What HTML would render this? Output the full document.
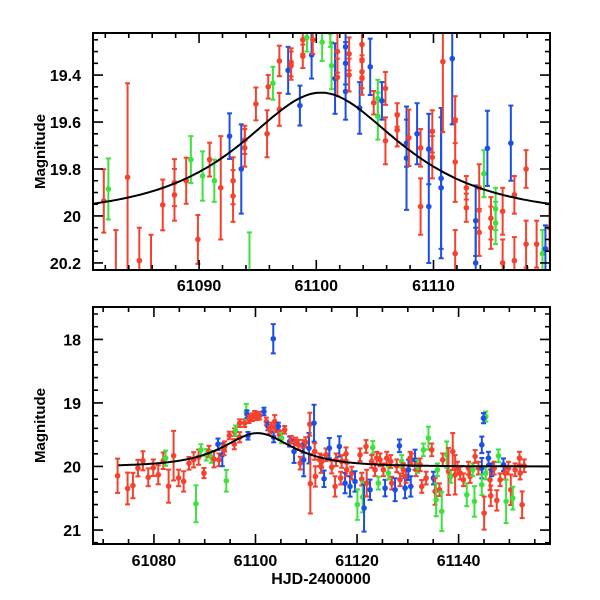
<!DOCTYPE html>
<html><head><meta charset="utf-8"><style>
html,body{margin:0;padding:0;background:#fff;}
svg{display:block;font-family:"Liberation Sans",sans-serif;}
</style></head><body>
<svg id="chart" width="600" height="600" viewBox="0 0 600 600" xmlns="http://www.w3.org/2000/svg"></svg>
<script>
const topT=[61081.87,61082.26,61083.9,61082.9,61084.9,61085.9,61086.9,61087.9,61087.9,61088.9,61089.3,61089.9,61090.3,61090.9,61091.3,61091.85,61092.6,61092.9,61092.9,61094.3,61093.6,61093.9,61093.9,61094.85,61095.8,61095.9,61096.3,61096.85,61096.85,61097.6,61097.85,61097.85,61098.6,61098.85,61098.85,61099.2,61099.6,61099.7,61100.5,61101.3,61101.2,61101.6,61101.8,61101.8,61102.5,61102.5,61102.5,61102.8,61102.8,61103.7,61103.9,61103.9,61103.9,61103.9,61104.6,61104.9,61105.25,61105.25,61105.6,61105.9,61105.9,61106.9,61106.9,61107.7,61107.7,61107.9,61108.6,61108.9,61108.9,61109.6,61109.6,61109.9,61109.9,61110.65,61110.65,61110.8,61111.6,61111.85,61111.85,61111.85,61112.8,61112.8,61113.6,61113.6,61113.9,61113.9,61114.3,61114.6,61114.9,61114.9,61115.3,61115.3,61115.9,61115.9,61116.6,61116.9,61116.9,61117.9,61117.9,61118.8,61119.3,61119.55,61119.9];
const topM=[19.936,19.885,19.835,20.3,20.19,20.3,19.953,19.858,19.91,19.85,19.76,20.1,19.83,19.76,19.85,19.88,19.66,19.85,19.915,20.3,19.8,19.676,19.71,19.523,19.65,19.45,19.435,19.546,19.34,19.38,19.346,19.36,19.53,19.32,19.25,19.24,19.315,19.25,19.26,19.36,19.22,19.415,19.3,19.41,19.28,19.35,19.47,19.31,19.4,19.54,19.27,19.336,19.386,19.414,19.365,19.518,19.575,19.5,19.51,19.457,19.68,19.57,19.634,19.69,19.754,19.667,19.65,19.96,19.71,19.715,19.96,19.64,19.75,19.84,19.88,19.343,19.33,19.59,19.77,20.16,19.965,19.88,20.02,20.2,19.88,20.07,19.82,19.712,20.01,20.05,19.97,20.03,19.98,20.2,19.69,19.91,20.19,19.8,20.12,20.12,20.16,20.14,20.05];
const topE=[0.135,0.13,0.4,0.24,0.14,0.22,0.108,0.1,0.11,0.098,0.1,0.104,0.105,0.072,0.09,0.22,0.097,0.1,0.11,0.23,0.19,0.06,0.08,0.07,0.1,0.05,0.07,0.07,0.065,0.1,0.06,0.06,0.085,0.05,0.06,0.06,0.1,0.06,0.08,0.1,0.06,0.15,0.09,0.08,0.07,0.09,0.12,0.07,0.07,0.11,0.06,0.07,0.07,0.07,0.12,0.05,0.1,0.08,0.08,0.07,0.1,0.05,0.07,0.1,0.22,0.12,0.13,0.12,0.08,0.15,0.24,0.09,0.09,0.3,0.3,0.3,0.28,0.1,0.17,0.1,0.06,0.05,0.15,0.15,0.1,0.1,0.1,0.16,0.09,0.09,0.09,0.09,0.1,0.1,0.16,0.08,0.1,0.08,0.1,0.1,0.1,0.1,0.1];
const topC="RGRRRRRRRRGRGRGRBRRGBRRRRRGRRBRRBRRGBRGGGBRRBBBRRBRRRRBRGGBRRRRBBRBRRBBRRBBRBRRRRRBBRRGBRRGGRRBRRRRRGBR";

const botT=[61072.84,61074.81,61075.86,61076.85,61077.83,61078.88,61079.87,61080.85,61081.84,61082.3,61082.89,61083.87,61084.86,61085.85,61086.9,61087.82,61088.28,61088.8,61089.26,61089.85,61090.31,61090.84,61091.3,61091.82,61092.81,61092.61,61093.47,61093.92,61093.8,61094.25,61094.84,61095.83,61095.9,61096.09,61096.88,61096.88,61098.52,61097.87,61098.2,61098.33,61098.72,61099.38,61099.84,61100.3,61100.82,61101.67,61102.14,61102.46,61102.8,61103.78,61103.58,61103.12,61103.97,61104.5,61104.76,61105.16,61105.75,61106.73,61107.06,61107.59,61107.9,61108.5,61108.8,61109.36,61109.5,61109.9,61110.54,61110.8,61110.7,61111.53,61111.66,61111.79,61112.65,61112.9,61103.5,61113.04,61113.5,61113.9,61114.55,61115.01,61115.67,61115.86,61116.52,61116.78,61116.98,61117.64,61117.83,61117.96,61118.62,61118.95,61119.6,61120.07,61120.59,61120.92,61121.12,61121.38,61121.77,61121.9,61122.56,61123.09,61122.89,61123.55,61123.88,61124.2,61124.53,61125.19,61125.52,61125.85,61126.17,61126.63,61126.83,61127.49,61127.82,61128.34,61128.47,61128.8,61129.13,61129.46,61129.66,61130.12,61130.45,61130.58,61130.77,61131.43,61131.63,61131.95,61132.41,61132.74,61133.07,61133.6,61134.06,61134.71,61135.04,61135.37,61135.57,61135.83,61136.23,61136.68,61136.88,61137.67,61138.0,61138.46,61138.85,61139.31,61139.77,61140.3,61140.95,61141.61,61141.94,61142.27,61142.79,61143.12,61143.25,61143.91,61144.57,61145.35,61144.9,61144.57,61144.57,61145.03,61145.35,61145.88,61146.2,61146.53,61146.34,61147.0,61147.52,61147.85,61148.18,61148.84,61149.17,61149.36,61149.82,61150.28,61150.68,61151.13,61151.99,61152.12,61152.51,61152.91];
const botM=[20.146,20.346,20.30,20.026,19.91,20.17,20.02,20.13,19.91,19.87,20.31,19.83,20.18,20.235,19.95,19.895,20.587,19.853,19.74,20.104,19.816,19.764,19.853,19.884,19.895,19.65,19.816,19.685,19.74,20.225,19.512,19.649,19.46,19.434,19.54,19.318,19.517,19.318,19.135,19.177,19.256,19.224,19.187,19.21,19.2,19.135,19.292,19.37,19.423,19.292,19.54,19.37,19.397,19.37,19.5,19.554,19.423,19.607,19.58,19.764,19.607,19.66,19.947,19.685,19.895,19.62,19.712,20.27,19.334,19.318,19.764,20.157,19.895,20.0,17.99,19.921,20.194,19.816,19.711,20.01,20.314,19.895,19.685,20.183,19.921,20.262,19.8,20.052,20.314,20.104,20.236,20.6,19.816,20.199,20.482,20.655,19.685,20.262,20.366,19.7,19.921,20.052,19.869,20.262,19.895,20.052,20.34,19.869,20.104,19.921,20.262,20.366,19.989,19.675,20.209,19.921,20.052,20.34,20.157,20.052,19.869,20.314,19.895,19.895,20.052,20.0,19.973,20.314,19.738,20.183,19.554,19.738,20.183,20.393,20.524,20.052,20.366,20.707,19.895,19.816,20.078,20.157,19.764,20.131,20.026,20.104,20.209,20.445,20.026,20.157,20.052,20.55,19.842,20.026,19.659,19.214,19.24,20.026,20.288,20.734,20.104,19.869,20.209,20.052,20.461,20.026,20.534,19.832,20.209,19.973,20.104,20.55,20.026,20.366,20.498,20.052,19.869,20.104,20.602,19.989];
const botE=[0.27,0.25,0.2,0.13,0.15,0.14,0.13,0.15,0.13,0.12,0.26,0.39,0.13,0.16,0.1,0.12,0.29,0.12,0.09,0.08,0.09,0.09,0.09,0.13,0.1,0.09,0.18,0.08,0.08,0.17,0.06,0.08,0.06,0.08,0.08,0.06,0.06,0.06,0.12,0.06,0.06,0.06,0.06,0.06,0.06,0.06,0.06,0.06,0.06,0.1,0.08,0.06,0.06,0.06,0.06,0.08,0.06,0.08,0.06,0.18,0.06,0.08,0.1,0.1,0.26,0.08,0.24,0.47,0.18,0.29,0.13,0.16,0.1,0.1,0.23,0.1,0.13,0.1,0.16,0.1,0.16,0.1,0.16,0.1,0.1,0.16,0.1,0.1,0.16,0.1,0.16,0.24,0.1,0.1,0.24,0.37,0.1,0.21,0.16,0.1,0.1,0.1,0.1,0.1,0.1,0.1,0.13,0.1,0.1,0.1,0.1,0.18,0.1,0.1,0.1,0.1,0.1,0.16,0.1,0.16,0.1,0.16,0.1,0.16,0.1,0.1,0.1,0.1,0.1,0.1,0.18,0.1,0.1,0.21,0.26,0.1,0.1,0.31,0.1,0.21,0.37,0.1,0.29,0.31,0.1,0.1,0.1,0.18,0.1,0.1,0.1,0.24,0.1,0.1,0.13,0.08,0.08,0.16,0.16,0.26,0.1,0.1,0.16,0.1,0.16,0.1,0.16,0.1,0.1,0.1,0.1,0.34,0.1,0.24,0.18,0.1,0.1,0.1,0.21,0.1];
const botC="RRRRRRRRRGRRRRRRGRGRGRGRRBBRRGRRRGRRBRGBRRRRRBRBRRBRRBRGRBRBRRRRBRBRRBRRRRBRBRBRRRBRRBRRBRBGRRGBRRBGRRRGRRBRGRRBRBRGRBRBRBRBRGRRGRGRBRGGRGRGRGRRRRRGRRGGRRBGBBGRGBRBRRRGRBRGRRGRRR";

const topXTicks=[61090,61100,61110];
const topYTicks=[19.4,19.6,19.8,20,20.2];
const botXTicks=[61080,61100,61120,61140];
const botYTicks=[18,19,20,21];

const NS="http://www.w3.org/2000/svg";
const svg=document.getElementById('chart');
const COL={R:"#f5412d",G:"#3ee23e",B:"#1c4fe8"};
function el(tag,attrs,parent){const e=document.createElementNS(NS,tag);for(const k in attrs)e.setAttribute(k,attrs[k]);(parent||svg).appendChild(e);return e;}
function model(t){const u0=0.735,tE=9.65,t0=61100.4;const u=Math.sqrt(u0*u0+((t-t0)/tE)**2);const A=(u*u+2)/(u*Math.sqrt(u*u+4));return 20.0-2.5*Math.log10(A);}

function panel(cfg){
  const g=el('g',{});
  
  
  const L=cfg.L,R=cfg.R,Tp=cfg.Tp,B=cfg.B,x0=cfg.x0,x1=cfg.x1,y0=cfg.y0,y1=cfg.y1;
  const sx=v=>L+(v-x0)/(x1-x0)*(R-L);
  const sy=v=>Tp+(v-y0)/(y1-y0)*(B-Tp);
  const cid='clip-'+cfg.name;
  const cp=el('clipPath',{id:cid},g);el('rect',{x:L,y:Tp,width:R-L,height:B-Tp},cp);
  const dg=el('g',{'clip-path':'url(#'+cid+')'},g);
  
  
  for(let i=0;i<cfg.ts.length;i++){
    const c=COL[cfg.cs[i]]||COL.R;const x=sx(cfg.ts[i]);const y=sy(cfg.ms[i]);
    const ya=sy(cfg.ms[i]-cfg.es[i]),yb=sy(cfg.ms[i]+cfg.es[i]);
    const pg=el('g',{stroke:c,'stroke-width':2,fill:c},dg);
    
    
    el('line',{x1:x,y1:ya,x2:x,y2:yb},pg);
    el('line',{x1:x-2.5,y1:ya,x2:x+2.5,y2:ya},pg);
    el('line',{x1:x-2.5,y1:yb,x2:x+2.5,y2:yb},pg);
    el('circle',{cx:x,cy:y,r:2.8,stroke:'none'},pg);
  }
  let d='';for(let t=cfg.c0;t<=cfg.c1;t+=0.25){d+=(d?'L':'M')+sx(t).toFixed(1)+','+sy(model(t)).toFixed(1);}
  const curve=el('path',{d:d,fill:'none',stroke:'#000','stroke-width':2},dg);
  
  
  const fr=el('rect',{x:L,y:Tp,width:R-L,height:B-Tp,fill:'none',stroke:'#000','stroke-width':2},g);
  
  
  let td='';
  for(let k=Math.ceil(x0/cfg.xmin);k*cfg.xmin<=x1;k++){const v=k*cfg.xmin;const x=sx(v);const maj=Math.abs(v/cfg.xmaj-Math.round(v/cfg.xmaj))<1e-6;const l=maj?10:5;td+=`M${x},${B}v${-l}M${x},${Tp}v${l}`;}
  for(let k=Math.ceil(y0/cfg.ymin-1e-6);k*cfg.ymin<=y1+1e-9;k++){const v=k*cfg.ymin;const y=sy(v);const maj=Math.abs(v/cfg.ymaj-Math.round(v/cfg.ymaj))<1e-6;const l=maj?10:5;td+=`M${L},${y}h${l}M${R},${y}h${-l}`;}
  const tk=el('path',{d:td,stroke:'#000','stroke-width':1.6,fill:'none'},g);
  
  
  for(const v of cfg.xt){const t=el('text',{x:sx(v),y:cfg.xly,'text-anchor':'middle','font-size':16,'font-weight':'bold'},g);t.textContent=String(v);
    
    }
  for(const v of cfg.yt){const t=el('text',{x:L-12,y:sy(v)+6,'text-anchor':'end','font-size':16,'font-weight':'bold'},g);t.textContent=String(v);
    
    }
  const yl=el('text',{transform:`translate(45,${(Tp+B)/2}) rotate(-90)`,'text-anchor':'middle','font-size':15,'font-weight':'bold'},g);
  yl.textContent='Magnitude';
  
  
  return g;
}
panel({name:'top-panel',L:93,R:550,Tp:33,B:270,x0:61080.95,x1:61119.94,y0:19.221,y1:20.23,ts:topT,ms:topM,es:topE,cs:topC,c0:61080,c1:61121,xmin:2,xmaj:10,ymin:0.05,ymaj:0.2,xt:topXTicks,yt:topYTicks,xly:291});
const bg=panel({name:'bottom-panel',L:93,R:550,Tp:307,B:544,x0:61068,x1:61158,y0:17.49,y1:21.22,ts:botT,ms:botM,es:botE,cs:botC,c0:61073,c1:61158,xmin:5,xmaj:20,ymin:0.2,ymaj:1,xt:botXTicks,yt:botYTicks,xly:566});
const xl=el('text',{x:321,y:584,'text-anchor':'middle','font-size':16,'font-weight':'bold'},bg);
xl.textContent='HJD-2400000';


</script>
</body></html>
